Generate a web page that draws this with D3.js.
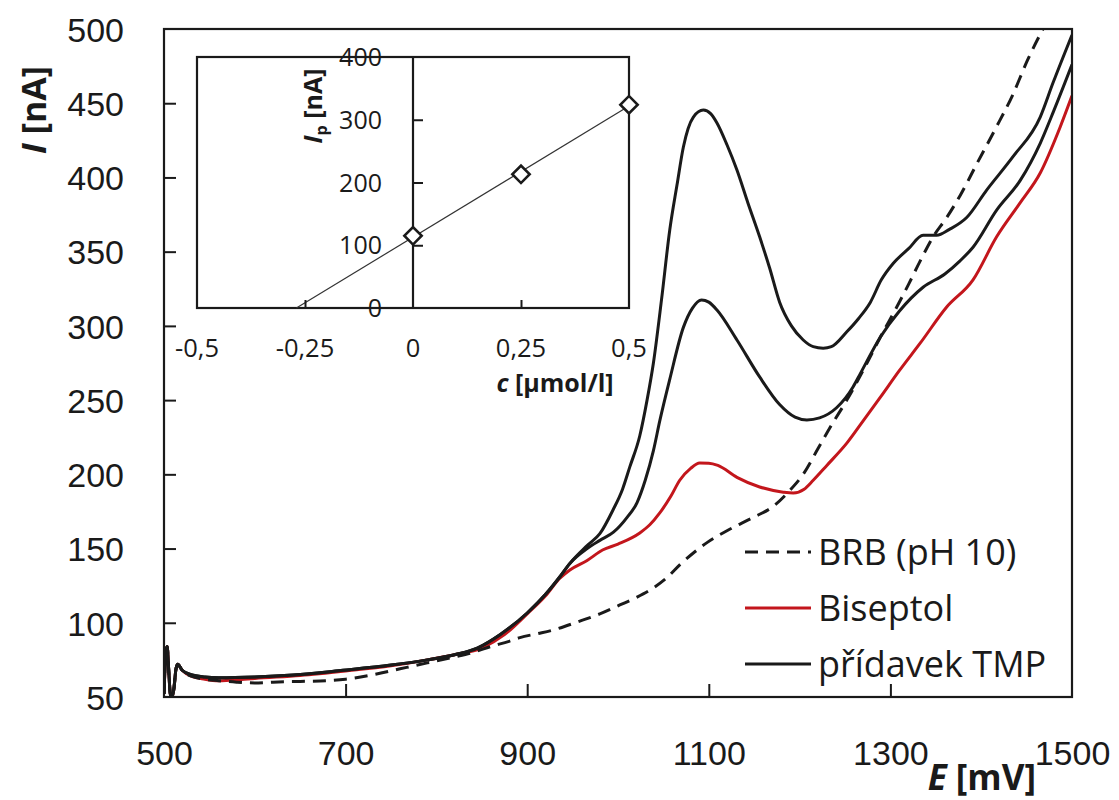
<!DOCTYPE html>
<html>
<head>
<meta charset="utf-8">
<script src="https://cdn.jsdelivr.net/npm/d3@7"></script>
<style>
  html, body { margin: 0; padding: 0; background: #fff; }
  svg { display: block; font-family: "Open Sans", "DejaVu Sans", sans-serif; }
</style>
</head>
<body>
<svg id="chart" width="1119" height="800"></svg>
<script>
// ---- Voltammograms: potential E [mV] and current I [nA] ----
const brbE = [500,502,503.5,505,507,509,511,513,515,520,530,545,560,580,600,620,650,680,700,730,760,790,820,840,860,880,892,910,928,955,980,1002,1020,1039,1055,1068,1085,1098,1120,1149,1170,1189,1205,1220,1235,1252,1270,1289,1307,1320,1333,1347,1362,1377,1395,1415,1435,1451,1468];
const brbI = [52,80,84,70,52,50,56,68,72,68,64,62,61,60,59.5,60,60.5,61,62,65,69,73,77,80,84,87.5,90,92.5,95,100.5,106,112,117,123.5,131,139,148,154,162,171,178,189,201,217,233,250,270,292.5,312.7,328,344,360,373,388,409,432,456,479,500];

const bisE = [500,502,503.5,505,507,509,511,513,515,520,530,545,560,580,600,650,700,750,790,820,850,875,900,920,936,947,966,983,1000,1024,1035,1046,1058,1068,1080,1090,1100,1110,1131,1156,1182,1193,1205,1215,1230,1252,1270,1289,1310,1333,1362,1391,1417,1443,1465,1487,1500];
const bisI = [52,80,84,70,52,50,56,68,72,68,64,62,61,61.5,62.5,64.5,67.5,71,75,78.5,83,92,106,118,130,135.6,142,149,153,160.5,166,174,185,196,204,207.6,207.5,206,198,191.5,188,187.4,190,196,206,221,236,252,270,288.5,312.7,331,360,383,403,434,455];

const tmp1E = [500,502,503.5,505,507,509,511,513,515,520,530,545,560,600,642,697,750,790,820,845,870,900,920,936,947,966,980,995,1010,1021,1030,1039,1046,1057,1072,1082,1092,1100,1109,1131,1156,1178,1195,1208,1222,1241,1259,1267,1289,1310,1336,1360,1377,1391,1417,1443,1465,1480,1500];
const tmp1I = [52,80,84,70,52,50,56,68,72,68,65,63.5,63,63.5,64.8,68,71.5,75,78.5,83,92,106.6,119,131,140,150,155.5,161,171,181,196,216,236,264,299,312,317.5,316,310.7,290.5,265.6,247,238.5,236.6,238,245,259,268,292.5,310,326,335,344,353,378,398,423,445,476];

const tmp2E = [500,502,503.5,505,507,509,511,513,515,520,530,545,560,600,642,697,750,790,820,845,870,900,920,936,947,966,980,994.5,1005,1013,1024,1032,1039,1048,1057,1065,1072,1083,1094,1102,1109,1120,1131,1143,1156,1167,1178,1191,1204,1215,1226,1235,1252,1265,1278,1290,1303,1320,1336,1351,1365,1384,1406,1435,1465,1479,1500];
const tmp2I = [52,80,84,70,52,50,56,68,72,68,65,63.5,63,63.5,64.8,68,71.5,75,78.5,83,92,106.6,119,131,140,152,160,176,190,205,226,250,275,318,364.6,395,420.5,440.7,445.4,443,436.7,422,405,383,360,339,316,300,290.5,286,285,286,296,305,316,331,342,352,361,361,365,373,391.5,414,440.7,463.6,496];

// axis ticks
const xTicks = [500,700,900,1100,1300,1500];
const yTicks = [50,100,150,200,250,300,350,400,450,500];

// legend entries
const legendLabels = ["BRB (pH 10)", "Biseptol", "přídavek TMP"];

// ---- Inset: standard addition (peak current vs. added concentration) ----
const addConc = [0, 0.25, 0.5];
const peakI = [115, 213, 324];
const insetXTicks = [-0.5, -0.25, 0, 0.25, 0.5];
const insetXLabels = ["-0,5", "-0,25", "0", "0,25", "0,5"];
const insetYTicks = [0, 100, 200, 300, 400];

const svg = d3.select("#chart");
const ink = "#1a1a1a";
const red = "#c3161c";

// main plot area
const pL = 164, pR = 1072, pT = 29, pB = 697;
const x = d3.scaleLinear().domain([500, 1500]).range([pL, pR]);
const y = d3.scaleLinear().domain([50, 500]).range([pB, pT]);

svg.append("defs").append("clipPath").attr("id", "plotClip")
  .append("rect").attr("x", pL).attr("y", pT).attr("width", pR - pL).attr("height", pB - pT);

const line = d3.line().x(d => x(d[0])).y(d => y(d[1])).curve(d3.curveMonotoneX);
const zip = (a, b) => a.map((v, i) => [v, b[i]]);

const curves = svg.append("g").attr("clip-path", "url(#plotClip)");
curves.append("path").datum(zip(bisE, bisI)).attr("d", line)
  .attr("fill", "none").attr("stroke", red).attr("stroke-width", 3).attr("stroke-linejoin", "round");
curves.append("path").datum(zip(tmp1E, tmp1I)).attr("d", line)
  .attr("fill", "none").attr("stroke", ink).attr("stroke-width", 3).attr("stroke-linejoin", "round");
curves.append("path").datum(zip(tmp2E, tmp2I)).attr("d", line)
  .attr("fill", "none").attr("stroke", ink).attr("stroke-width", 3).attr("stroke-linejoin", "round");
curves.append("path").datum(zip(brbE, brbI)).attr("d", line)
  .attr("fill", "none").attr("stroke", ink).attr("stroke-width", 3).attr("stroke-dasharray", "13,8");

// axes with inward ticks
const xAxis = d3.axisBottom(x).tickValues(xTicks).tickSizeInner(-13).tickSizeOuter(0).tickPadding(44).tickFormat(d3.format("d"));
const yAxis = d3.axisLeft(y).tickValues(yTicks).tickSizeInner(-12).tickSizeOuter(0).tickPadding(40).tickFormat(d3.format("d"));

const gx = svg.append("g").attr("transform", `translate(0,${pB})`).call(xAxis);
const gy = svg.append("g").attr("transform", `translate(${pL},0)`).call(yAxis);
[gx, gy].forEach(g => {
  g.select(".domain").remove();
  g.selectAll(".tick line").attr("stroke", ink).attr("stroke-width", 2);
  g.selectAll(".tick text").attr("fill", ink).style("font-size", "34px");
});
gx.selectAll(".tick line").filter(d => d === 500 || d === 1500).remove();
gy.selectAll(".tick line").filter(d => d === 50 || d === 500).remove();
gy.selectAll(".tick text").attr("dy", "0.36em");

svg.append("rect").attr("x", pL).attr("y", pT).attr("width", pR - pL).attr("height", pB - pT)
  .attr("fill", "none").attr("stroke", ink).attr("stroke-width", 2.2);

// axis titles
const xt = svg.append("text").attr("x", 1036).attr("y", 790).attr("text-anchor", "end")
  .attr("fill", ink).style("font-size", "35px").style("font-weight", "bold");
xt.append("tspan").style("font-style", "italic").text("E");
xt.append("tspan").text(" [mV]");

const yt = svg.append("text").attr("transform", "translate(46,110) rotate(-90)").attr("text-anchor", "middle")
  .attr("fill", ink).style("font-size", "34px").style("font-weight", "bold");
yt.append("tspan").style("font-style", "italic").text("I");
yt.append("tspan").text(" [nA]");

// legend
const legend = svg.append("g");
const legendStyles = [
  { stroke: ink, dash: "13,8" },
  { stroke: red, dash: null },
  { stroke: ink, dash: null }
];
legendLabels.forEach((lab, i) => {
  const yy = 552 + i * 56;
  legend.append("line").attr("x1", 745).attr("x2", 811).attr("y1", yy).attr("y2", yy)
    .attr("stroke", legendStyles[i].stroke).attr("stroke-width", 3)
    .attr("stroke-dasharray", legendStyles[i].dash);
  legend.append("text").attr("x", 818).attr("y", yy).attr("dy", "0.36em")
    .attr("fill", ink).style("font-size", "36px").text(lab);
});

// ---- inset ----
const iL = 197, iR = 629, iT = 57, iB = 308;
const ix = d3.scaleLinear().domain([-0.5, 0.5]).range([iL, iR]);
const iy = d3.scaleLinear().domain([0, 400]).range([iB, iT]);
const inset = svg.append("g");

inset.append("rect").attr("x", iL).attr("y", iT).attr("width", iR - iL).attr("height", iB - iT)
  .attr("fill", "#fff").attr("stroke", ink).attr("stroke-width", 2.2);

// least-squares fit through the standard additions
const mx = d3.mean(addConc), my = d3.mean(peakI);
const slope = d3.sum(addConc.map((c, i) => (c - mx) * (peakI[i] - my))) / d3.sum(addConc.map(c => (c - mx) ** 2));
const icpt = my - slope * mx;
const xZero = -icpt / slope;
inset.append("line")
  .attr("x1", ix(xZero)).attr("y1", iy(0))
  .attr("x2", ix(0.5)).attr("y2", iy(icpt + slope * 0.5))
  .attr("stroke", "#333").attr("stroke-width", 1.2);

// y axis at c = 0
const iyAxis = d3.axisRight(iy).tickValues([100, 200, 300]).tickSize(10).tickFormat("");
const giy = inset.append("g").attr("transform", `translate(${ix(0)},0)`).call(iyAxis);
giy.select(".domain").remove();
giy.selectAll(".tick line").attr("stroke", ink).attr("stroke-width", 2);
inset.append("line").attr("x1", ix(0)).attr("x2", ix(0)).attr("y1", iT).attr("y2", iB)
  .attr("stroke", ink).attr("stroke-width", 2.2);

// y tick labels placed left of the zero axis
inset.selectAll("text.iy").data(insetYTicks).join("text").attr("class", "iy")
  .attr("x", 382).attr("y", d => iy(d)).attr("dy", "0.36em").attr("text-anchor", "end")
  .attr("fill", ink).style("font-size", "25px").text(d => d);

// x ticks on the bottom edge
const ixAxis = d3.axisTop(ix).tickValues([-0.25, 0.25]).tickSize(8).tickFormat("");
const gix = inset.append("g").attr("transform", `translate(0,${iB})`).call(ixAxis);
gix.select(".domain").remove();
gix.selectAll(".tick line").attr("stroke", ink).attr("stroke-width", 2);

inset.selectAll("text.ix").data(insetXTicks).join("text").attr("class", "ix")
  .attr("x", d => ix(d)).attr("y", 357).attr("text-anchor", "middle")
  .attr("fill", ink).style("font-size", "25.5px").text((d, i) => insetXLabels[i]);

const ixt = inset.append("text").attr("x", 555).attr("y", 392).attr("text-anchor", "middle")
  .attr("fill", ink).style("font-size", "25px").style("font-weight", "bold");
ixt.append("tspan").style("font-style", "italic").text("c");
ixt.append("tspan").text(" [µmol/l]");

const iyt = inset.append("text").attr("transform", "translate(322,106) rotate(-90)").attr("text-anchor", "middle")
  .attr("fill", ink).style("font-size", "25px").style("font-weight", "bold");
iyt.append("tspan").style("font-style", "italic").text("I");
iyt.append("tspan").attr("dy", "5").style("font-size", "16px").text("p");
iyt.append("tspan").attr("dy", "-5").text(" [nA]");

// diamond markers
inset.selectAll("path.pt").data(addConc.map((c, i) => [c, peakI[i]])).join("path").attr("class", "pt")
  .attr("d", d3.symbol(d3.symbolSquare, 150))
  .attr("transform", d => `translate(${ix(d[0])},${iy(d[1])}) rotate(45)`)
  .attr("fill", "#fff").attr("stroke", ink).attr("stroke-width", 2.6);
</script>
</body>
</html>
